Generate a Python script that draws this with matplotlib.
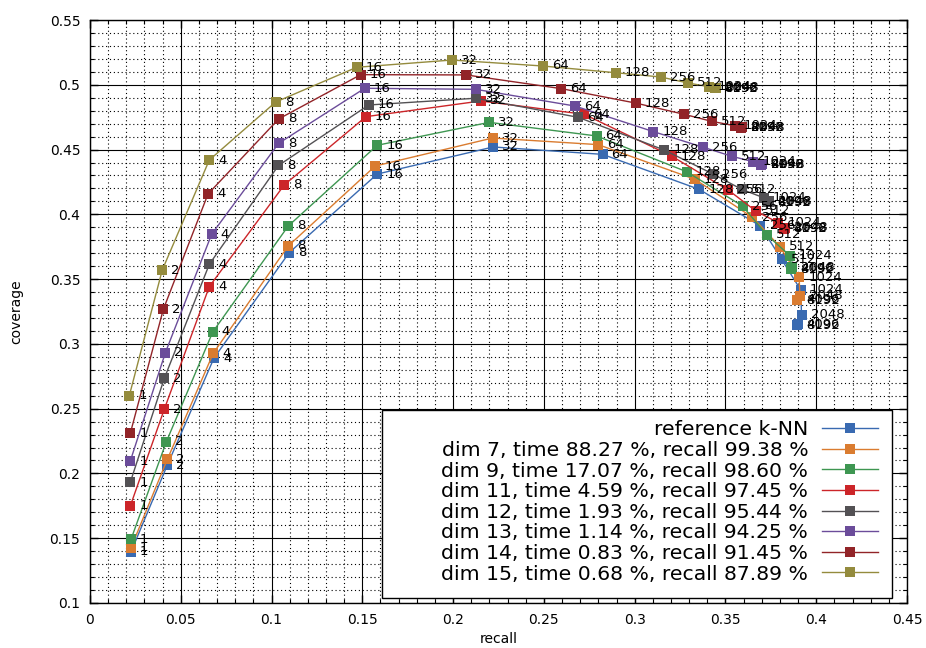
import matplotlib
matplotlib.use("Agg")
import matplotlib.pyplot as plt
from matplotlib.ticker import MultipleLocator
from matplotlib.patches import Rectangle

k_values = [1, 2, 4, 8, 16, 32, 64, 128, 256, 512, 1024, 2048, 4096, 8192]

series_names = [
    "reference k-NN",
    "dim 7, time 88.27 %, recall 99.38 %",
    "dim 9, time 17.07 %, recall 98.60 %",
    "dim 11, time 4.59 %, recall 97.45 %",
    "dim 12, time 1.93 %, recall 95.44 %",
    "dim 13, time 1.14 %, recall 94.25 %",
    "dim 14, time 0.83 %, recall 91.45 %",
    "dim 15, time 0.68 %, recall 87.89 %",
]
colors = ["#396AB1", "#DA7C30", "#3E9651", "#CC2529",
          "#535154", "#6B4C9A", "#922428", "#948B3D"]

recall_ref = [0.0226, 0.0426, 0.0683, 0.1097, 0.1582, 0.2221, 0.2823, 0.3355, 0.3693, 0.3809, 0.3915, 0.3919, 0.3897, 0.3893]
cover_ref = [0.1395, 0.2065, 0.2891, 0.3704, 0.4311, 0.4520, 0.4463, 0.4193, 0.3910, 0.3653, 0.3416, 0.3223, 0.3150, 0.3144]

recall_d7 = [0.0226, 0.0426, 0.0679, 0.1092, 0.1571, 0.2217, 0.2799, 0.3331, 0.3649, 0.3800, 0.3906, 0.3910, 0.3895, 0.3893]
cover_d7 = [0.1427, 0.2109, 0.2928, 0.3756, 0.4373, 0.4589, 0.4538, 0.4271, 0.3977, 0.3750, 0.3516, 0.3370, 0.3342, 0.3338]

recall_d9 = [0.0226, 0.0420, 0.0676, 0.1092, 0.1582, 0.2199, 0.2790, 0.3286, 0.3594, 0.3728, 0.3855, 0.3866, 0.3862, 0.3860]
cover_d9 = [0.1492, 0.2243, 0.3092, 0.3910, 0.4533, 0.4710, 0.4605, 0.4329, 0.4064, 0.3841, 0.3681, 0.3590, 0.3580, 0.3578]

recall_d11 = [0.0222, 0.0409, 0.0657, 0.1070, 0.1520, 0.2153, 0.2722, 0.3203, 0.3515, 0.3667, 0.3790, 0.3827, 0.3822, 0.3821]
cover_d11 = [0.1749, 0.2495, 0.3442, 0.4227, 0.4754, 0.4875, 0.4772, 0.4450, 0.4188, 0.4026, 0.3936, 0.3895, 0.3890, 0.3889]

recall_d12 = [0.0222, 0.0409, 0.0657, 0.1038, 0.1535, 0.2124, 0.2689, 0.3162, 0.3432, 0.3589, 0.3711, 0.3741, 0.3738, 0.3737]
cover_d12 = [0.1932, 0.2733, 0.3614, 0.4377, 0.4844, 0.4896, 0.4749, 0.4497, 0.4311, 0.4193, 0.4128, 0.4100, 0.4096, 0.4095]

recall_d13 = [0.0222, 0.0415, 0.0670, 0.1039, 0.1513, 0.2124, 0.2671, 0.3102, 0.3377, 0.3538, 0.3653, 0.3699, 0.3696, 0.3695]
cover_d13 = [0.2096, 0.2932, 0.3846, 0.4548, 0.4973, 0.4965, 0.4836, 0.4639, 0.4518, 0.4447, 0.4406, 0.4388, 0.4384, 0.4383]

recall_d14 = [0.0222, 0.0404, 0.0650, 0.1039, 0.1491, 0.2072, 0.2597, 0.3005, 0.3273, 0.3427, 0.3552, 0.3590, 0.3586, 0.3585]
cover_d14 = [0.2310, 0.3267, 0.4157, 0.4736, 0.5078, 0.5076, 0.4970, 0.4859, 0.4772, 0.4717, 0.4684, 0.4672, 0.4668, 0.4667]

recall_d15 = [0.0216, 0.0398, 0.0657, 0.1023, 0.1469, 0.1993, 0.2494, 0.2896, 0.3144, 0.3293, 0.3409, 0.3447, 0.3445, 0.3444]
cover_d15 = [0.2598, 0.3570, 0.4419, 0.4867, 0.5135, 0.5191, 0.5145, 0.5093, 0.5060, 0.5014, 0.4985, 0.4978, 0.4975, 0.4974]

recalls = [recall_ref, recall_d7, recall_d9, recall_d11, recall_d12, recall_d13, recall_d14, recall_d15]
covers = [cover_ref, cover_d7, cover_d9, cover_d11, cover_d12, cover_d13, cover_d14, cover_d15]

x_ticks = [0, 0.05, 0.1, 0.15, 0.2, 0.25, 0.3, 0.35, 0.4, 0.45]
y_ticks = [0.1, 0.15, 0.2, 0.25, 0.3, 0.35, 0.4, 0.45, 0.5, 0.55]

plt.rcParams['font.family'] = ['DejaVu Sans']
fig = plt.figure(figsize=(9.26, 6.48), dpi=100)
ax = fig.add_axes([90/926, 1-603/648, (907-90)/926, (603-20)/648])

for name, c, xs, ys in zip(series_names, colors, recalls, covers):
    ax.plot(xs, ys, color=c, lw=1.0, marker='s', markersize=7,
            markeredgewidth=0, label=name, zorder=3)
    for k, x, y in zip(k_values, xs, ys):
        ax.annotate(str(k), (x, y), xytext=(6.5, 0), textcoords='offset points',
                    ha='left', va='center', fontsize=9.5, color='black', zorder=5)

ax.set_xlim(0, 0.45)
ax.set_ylim(0.1, 0.55)
ax.set_xticks(x_ticks)
ax.set_yticks(y_ticks)
ax.set_xticklabels(["%g" % v for v in x_ticks])
ax.set_yticklabels(["%g" % v for v in y_ticks])
ax.xaxis.set_minor_locator(MultipleLocator(0.01))
ax.yaxis.set_minor_locator(MultipleLocator(0.01))
ax.tick_params(which='both', direction='in', top=True, right=True, color='black')
ax.tick_params(which='major', length=6, width=1, labelsize=10, pad=7)
ax.tick_params(which='minor', length=3, width=0.8)
ax.grid(which='major', color='black', lw=0.8, ls='-', zorder=1)
ax.grid(which='minor', color='black', lw=0.8, ls=(0, (1, 2.5)), zorder=1)
ax.set_axisbelow(True)
for s in ax.spines.values():
    s.set_linewidth(1.0)
    s.set_color('black')

ax.set_xlabel("recall", fontsize=10, labelpad=4)
ax.set_ylabel("coverage", fontsize=10, labelpad=19)

# legend box (gnuplot-style: wide white box, right-aligned entries)
box = Rectangle((0.3574, 0.0086), 0.9816 - 0.3574, 0.331 - 0.0086,
                transform=ax.transAxes, facecolor='white', edgecolor='black',
                lw=1.0, zorder=8)
ax.add_patch(box)
leg = ax.legend(loc='center right', bbox_to_anchor=(0.9645, 0.1732),
                markerfirst=False, fontsize=14.7, frameon=False,
                handlelength=2.74, handletextpad=0.68, labelspacing=0.078,
                borderpad=0, borderaxespad=0)
leg.set_zorder(10)

fig.savefig("out.png", dpi=100)
